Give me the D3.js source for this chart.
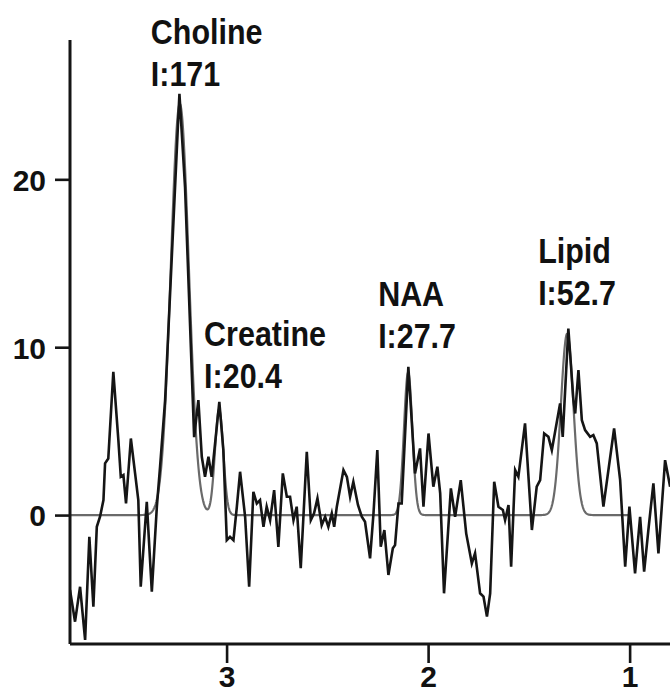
<!DOCTYPE html>
<html>
<head>
<meta charset="utf-8">
<script src="https://cdn.jsdelivr.net/npm/d3@7"></script>
<style>
  html, body { margin: 0; padding: 0; background: #fff; }
  svg { display: block; }
  text { font-family: "Liberation Sans", Arial, Helvetica, sans-serif; font-weight: bold; fill: #111; }
</style>
</head>
<body>
<svg id="chart" width="670" height="694"></svg>
<script>
// Measured spectrum: chemical shift (ppm) and signal amplitude
const spectrumPpm = [
  3.777, 3.752, 3.727, 3.702, 3.681, 3.661, 3.644, 3.628, 3.611, 3.603,
  3.587, 3.562, 3.537, 3.525, 3.512, 3.499, 3.475, 3.454, 3.438, 3.426,
  3.396, 3.371, 3.346, 3.330, 3.305, 3.234, 3.206, 3.161, 3.140, 3.123,
  3.107, 3.090, 3.074, 3.036, 3.016, 2.999, 2.983, 2.966, 2.949, 2.933,
  2.908, 2.888, 2.867, 2.850, 2.834, 2.817, 2.801, 2.784, 2.764, 2.743,
  2.721, 2.701, 2.685, 2.668, 2.652, 2.632, 2.602, 2.582, 2.566, 2.549,
  2.528, 2.511, 2.495, 2.478, 2.466, 2.453, 2.420, 2.403, 2.387, 2.371,
  2.348, 2.329, 2.313, 2.288, 2.271, 2.252, 2.235, 2.217, 2.197, 2.175,
  2.164, 2.147, 2.131, 2.098, 2.065, 2.040, 2.023, 1.998, 1.974, 1.954,
  1.940, 1.921, 1.887, 1.866, 1.838, 1.811, 1.783, 1.767, 1.742, 1.725,
  1.708, 1.692, 1.672, 1.651, 1.629, 1.618, 1.601, 1.588, 1.568, 1.552,
  1.519, 1.485, 1.461, 1.444, 1.424, 1.403, 1.386, 1.345, 1.332, 1.304,
  1.279, 1.270, 1.254, 1.237, 1.221, 1.196, 1.180, 1.163, 1.130, 1.077,
  1.047, 1.022, 1.001, 0.973, 0.948, 0.928, 0.907, 0.882, 0.857, 0.824,
  0.799
];
const spectrumSignal = [
  -4.46, -6.35, -4.27, -7.44, -1.29, -5.46, -0.70, -0.10, 0.89, 3.08,
   3.37,  8.53,  4.46,  2.28,  2.38,  0.69,  4.56,  2.48, 0.89, -4.27,
   0.79, -4.56,  0.50,  2.88,  6.85, 25.10, 19.50,  4.64, 6.85,  3.47,
   2.28,  3.47,  2.28,  6.74,  3.87, -1.49, -1.29, -1.49, 0.50,  2.58,
  -0.10, -4.27,  1.39,  0.69,  0.89, -0.70,  0.50, -0.30, 1.49, -1.89,
   2.48,  1.09,  1.09, -0.30,  0.50, -3.17,  3.77, -0.30, 0.10,  0.99,
  -0.60, -0.10, -0.70,  0.10, -0.70,  0.50,  2.68,  2.28, 1.09,  1.98,
   0.60, -0.10, -0.40, -2.58,  0.10,  3.87, -1.89, -0.89, -3.57, -1.98,
  -1.79,  0.69,  0.69,  8.83,  2.48,  3.97,  0.50,  4.86, 1.69,  2.88,
   1.29, -4.66,  1.59, -0.10,  2.08, -1.09, -2.88, -2.28, -4.66, -4.86,
  -6.05, -4.66,  1.98,  0.50,  0.30, -0.30,  0.60, -3.08, 2.68,  2.28,
   5.46, -0.89,  1.69,  2.08,  4.86,  4.66,  3.87,  6.65, 4.66, 11.11,
   6.85,  6.05,  8.63,  5.65,  5.06,  4.66,  4.76,  4.27, 0.50,  5.16,
   2.08, -3.08,  0.50, -3.47, -0.10, -3.37, -0.89,  1.89, -2.28, 3.27,
   1.69
];

// Fitted metabolite peaks (Gaussian model): centre, peak height, integral
const peakNames = ["Choline", "Creatine", "NAA", "Lipid"];
const peakCenters = [3.232, 3.037, 2.099, 1.310];
const peakHeights = [24.5, 6.3, 8.5, 10.8];
const peakIntegrals = [171, 20.4, 27.7, 52.7];
const ppmPerPoint = 0.016;          // integrals are in signal x points
const fitRange = [3.777, 1.0];       // ppm span covered by the fit

const xTicks = [3, 2, 1];
const yTicks = [0, 10, 20];

// ---- layout -------------------------------------------------------------
const svg = d3.select("#chart");
const W = 670, H = 694;
const plotLeft = 70, plotTop = 40, plotBottom = 644;

const x = d3.scaleLinear().domain([3.777, 0.75]).range([plotLeft, 680]);
const y = d3.scaleLinear().domain([-7.68, 28.3]).range([plotBottom, plotTop]);

svg.append("rect").attr("width", W).attr("height", H).attr("fill", "#fff");

svg.append("defs").append("clipPath").attr("id", "plotClip")
  .append("rect").attr("x", plotLeft).attr("y", 0)
  .attr("width", W - plotLeft).attr("height", plotBottom);

// ---- fitted curve: sum of Gaussians ---------------------------------------
const sigmas = peakIntegrals.map((I, i) =>
  I * ppmPerPoint / (peakHeights[i] * Math.sqrt(2 * Math.PI)));

function fitValue(ppm) {
  let s = 0;
  for (let i = 0; i < peakCenters.length; i++) {
    const d = (ppm - peakCenters[i]) / sigmas[i];
    s += peakHeights[i] * Math.exp(-0.5 * d * d);
  }
  return s;
}
const fitPpm = d3.range(fitRange[0], fitRange[1] - 1e-9, -0.002);
const fitData = fitPpm.map(p => [p, fitValue(p)]);

const line = d3.line().x(d => x(d[0])).y(d => y(d[1]));

const plot = svg.append("g").attr("clip-path", "url(#plotClip)");

plot.append("path")
  .datum(fitData)
  .attr("d", line)
  .attr("fill", "none")
  .attr("stroke", "#6a6a6a")
  .attr("stroke-width", 2.2)
  .attr("stroke-linejoin", "round");

const spectrum = spectrumPpm.map((p, i) => [p, spectrumSignal[i]]);
plot.append("path")
  .datum(spectrum)
  .attr("d", line)
  .attr("fill", "none")
  .attr("stroke", "#151515")
  .attr("stroke-width", 2.6)
  .attr("stroke-linejoin", "miter")
  .attr("stroke-miterlimit", 6);

// ---- axes -----------------------------------------------------------------
const yAxis = svg.append("g")
  .attr("transform", `translate(${plotLeft},0)`)
  .call(d3.axisLeft(y).tickValues(yTicks).tickSize(15).tickSizeOuter(0).tickPadding(9)
    .tickFormat(d3.format("d")));
yAxis.select(".domain").attr("d", `M0,${plotTop}V${plotBottom}`);

const xAxis = svg.append("g")
  .attr("transform", `translate(0,${plotBottom})`)
  .call(d3.axisBottom(x).tickValues(xTicks).tickSize(19).tickSizeOuter(0).tickPadding(4)
    .tickFormat(d3.format("d")));
xAxis.select(".domain").attr("d", `M${plotLeft},0H${W + 5}`);

[yAxis, xAxis].forEach(g => {
  g.select(".domain").attr("stroke", "#151515").attr("stroke-width", 3);
  g.selectAll(".tick line").attr("stroke", "#151515").attr("stroke-width", 2.6);
  g.selectAll(".tick text")
    .attr("fill", "#111")
    .style("font-family", "'Liberation Sans', Arial, sans-serif")
    .style("font-weight", "bold")
    .style("font-size", "30px");
});
yAxis.selectAll(".tick text").attr("dy", "0.36em");
xAxis.selectAll(".tick text").attr("dy", "0.68em");

// ---- peak labels ----------------------------------------------------------
// pixel offsets of each two-line label (second-line baseline) from its peak apex
const labelOffsets = [[-29, -18], [-15, -21], [-30, -24], [-29, -29]];
const lineGap = 42;

peakNames.forEach((name, i) => {
  const px = x(peakCenters[i]) + labelOffsets[i][0];
  const py = y(peakHeights[i]) + labelOffsets[i][1];
  const g = svg.append("g").attr("transform", `translate(${px},${py})`);
  g.append("text")
    .attr("transform", `translate(0,${-lineGap}) scale(0.87,1)`)
    .style("font-size", "35px")
    .text(name);
  g.append("text")
    .attr("transform", "scale(0.87,1)")
    .style("font-size", "35px")
    .text("I:" + peakIntegrals[i]);
});
</script>
</body>
</html>
